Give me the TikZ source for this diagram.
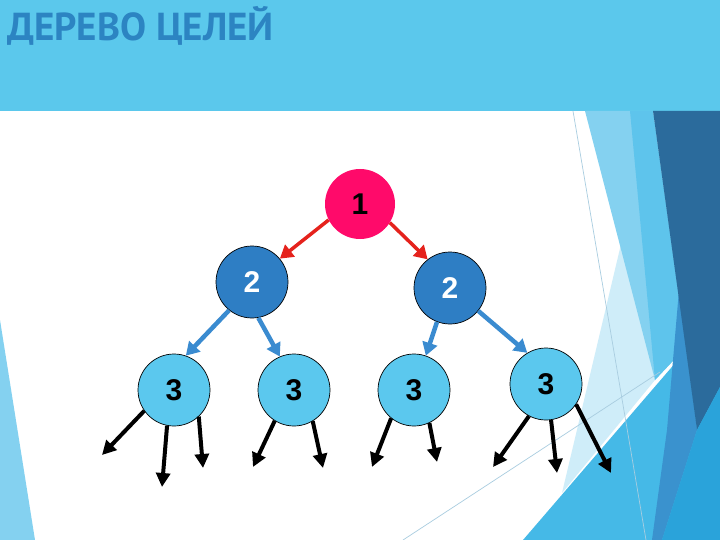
\documentclass[tikz,border=0pt]{standalone}
\usepackage{fontspec}
\setmainfont{Liberation Sans}
\newfontfamily\titlefont{PT Sans}
\usetikzlibrary{arrows.meta}
\definecolor{band}{HTML}{5BC8EC}
\definecolor{titleblue}{HTML}{2C84C2}
\definecolor{pinkred}{HTML}{FF0A6A}
\definecolor{midblue}{HTML}{2E7EC4}
\definecolor{skyblue}{HTML}{5BC8EE}
\definecolor{arrred}{HTML}{E5221C}
\definecolor{arrblue}{HTML}{3A8BD0}
\definecolor{facetlight}{HTML}{84D1F0}
\definecolor{facetwedge}{HTML}{5EC4EC}
\definecolor{facetvlight}{HTML}{CFEDF9}
\definecolor{facetmed}{HTML}{45B9E7}
\definecolor{facetdark}{HTML}{2B6B9C}
\definecolor{facetmd}{HTML}{3A92CE}
\definecolor{facetdeep}{HTML}{2AA3DA}
\definecolor{facetline}{HTML}{A9CDE0}
\tikzset{
  goal/.style={circle, minimum size=72pt, inner sep=0pt, font=\bfseries\fontsize{30}{30}\selectfont},
  lvlone/.style={goal, fill=pinkred, minimum size=70pt, text=black},
  lvltwo/.style={goal, fill=midblue, draw=black, line width=0.7pt, text=white},
  lvlthree/.style={goal, fill=skyblue, draw=black, line width=0.7pt, text=black},
  redarrow/.style={draw=arrred, line width=3.5pt, -{Triangle[length=13pt,width=15pt]}},
  bluearrow/.style={draw=arrblue, line width=4.5pt, -{Triangle[length=13pt,width=15pt]}},
  blackarrow/.style={draw=black, line width=4pt, -{Triangle[length=14pt,width=14pt]}}
}
\begin{document}
\begin{tikzpicture}[x=1pt,y=-1pt]
\useasboundingbox (0,0) rectangle (720,540);
% background
\fill[white] (0,0) rectangle (720,540);
\fill[band] (0,0) rectangle (720,111);
\node[anchor=base west, text=titleblue, inner sep=0pt, font=\titlefont\bfseries\fontsize{39}{40}\selectfont] (title) at (7,41) {ДЕРЕВО ЦЕЛЕЙ};
% left facet
\fill[facetlight] (0,320) -- (0,540) -- (35,540) -- cycle;
% right facets
\fill[facetmed] (523,540) -- (720,311) -- (720,540) -- cycle;
\fill[facetvlight] (562,493) -- (622,240) -- (655,380) -- cycle;
\fill[facetlight] (585,111) -- (653,111) -- (686,347) -- (655,380) -- cycle;
\fill[facetwedge] (630,111) -- (653,111) -- (686,347) -- (655,380) -- cycle;
\fill[facetmd] (679,290) -- (697,430) -- (662,540) -- (652,540) -- (667,430) -- cycle;
\fill[facetdark] (653,111) -- (720,111) -- (720,387) -- (697,430) -- cycle;
\fill[facetdeep] (662,540) -- (697,430) -- (720,387) -- (720,540) -- cycle;
\draw[facetline, line width=0.7pt] (573,111) -- (646,540);
\draw[facetline, line width=0.7pt] (403,540) -- (660,372);
% nodes
\node[lvlone] (n1) at (360,204) {1};
\node[lvltwo] (n2l) at (252,282) {2};
\node[lvltwo] (n2r) at (450,288) {2};
\node[lvlthree] (n31) at (174,390) {3};
\node[lvlthree] (n32) at (294,390) {3};
\node[lvlthree] (n33) at (414,390) {3};
\node[lvlthree] (n34) at (546,384) {3};
% free ends
\coordinate (t11) at (102,455);
\coordinate (t12) at (162,487);
\coordinate (t13) at (203,468);
\coordinate (t21) at (253,467);
\coordinate (t22) at (323,468);
\coordinate (t31) at (372,467);
\coordinate (t32) at (437,462);
\coordinate (t41) at (493,467);
\coordinate (t42) at (557,473);
\coordinate (t43) at (611,473);
% connectors
\draw[redarrow] (n1.-153) -- (n2l.40);
\draw[redarrow] (n1.-32) -- (n2r.128);
\draw[bluearrow] (n2l.-129) -- (n31.71);
\draw[bluearrow] (n2l.-80) -- (n32.113);
\draw[bluearrow] (n2r.-111) -- (n33.71);
\draw[bluearrow] (n2r.-39) -- (n34.121);
\draw[blackarrow] (n31.-145) -- (t11);
\draw[blackarrow] (n31.-101) -- (t12);
\draw[blackarrow] (n31.-47) -- (t13);
\draw[blackarrow] (n32.-122) -- (t21);
\draw[blackarrow] (n32.-59) -- (t22);
\draw[blackarrow] (n33.-129) -- (t31);
\draw[blackarrow] (n33.-65) -- (t32);
\draw[blackarrow] (n34.-118) -- (t41);
\draw[blackarrow] (n34.-82) -- (t42);
\draw[blackarrow] (n34.-34) -- (t43);
\end{tikzpicture}
\end{document}
